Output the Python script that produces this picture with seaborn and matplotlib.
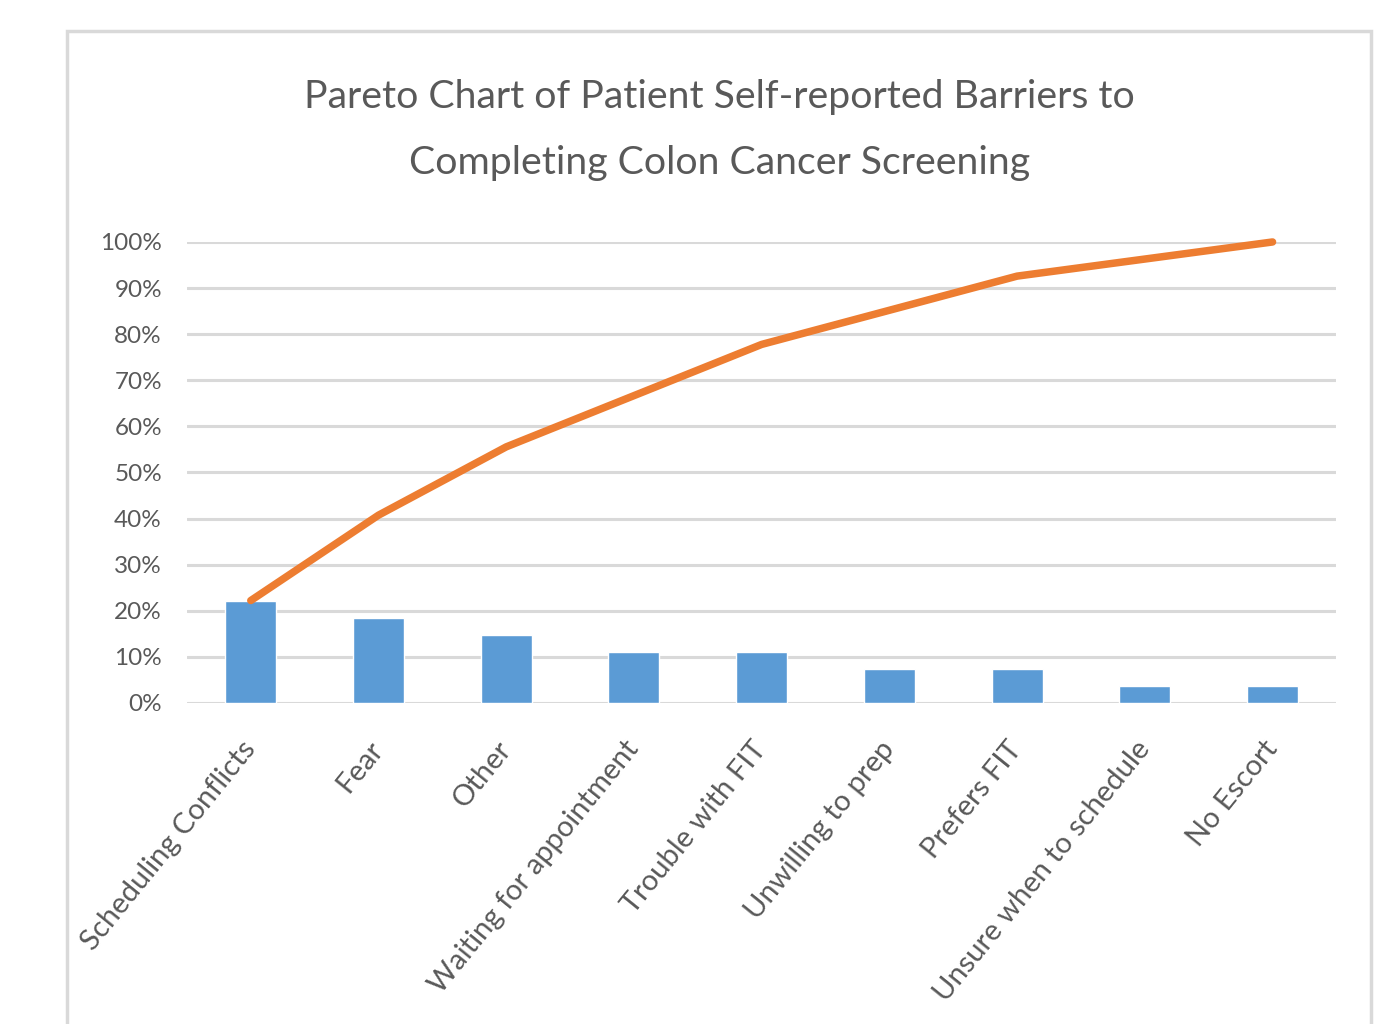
import numpy as np
import pandas as pd
import seaborn as sns
import matplotlib
matplotlib.use("Agg")
from matplotlib import pyplot as plt
from matplotlib.patches import Rectangle
from matplotlib.ticker import PercentFormatter

# data (27 responses)
barriers = ["Scheduling Conflicts", "Fear", "Other", "Waiting for appointment",
            "Trouble with FIT", "Unwilling to prep", "Prefers FIT",
            "Unsure when to schedule", "No Escort"]
counts = [6, 5, 4, 3, 3, 2, 2, 1, 1]
title_lines = ["Pareto Chart of Patient Self-reported Barriers to",
               "Completing Colon Cancer Screening"]

df = pd.DataFrame({"barrier": barriers, "count": counts})
df["share"] = df["count"] / df["count"].sum()
df["cum"] = df["share"].cumsum()
df["pos"] = np.arange(len(df))

sns.set_theme(style="white")
plt.rcParams["font.family"] = ["Lato", "DejaVu Sans"]

grey = "#595959"
fig = plt.figure(figsize=(13.95, 10.24), dpi=100)
ax = fig.add_axes([0.134, 0.3135, 0.824, 0.4502])

sns.barplot(data=df, x="barrier", y="share", color="#5B9BD5", width=0.4,
            saturation=1, ax=ax, zorder=2)
sns.lineplot(data=df, x="pos", y="cum", color="#ED7D31", linewidth=5.4,
             ax=ax, zorder=3, clip_on=False, solid_capstyle="round")

ax.set_xlim(-0.5, len(df) - 0.5)
ax.set_ylim(0, 1.0)
ax.set_yticks(np.arange(0, 1.01, 0.1))
ax.yaxis.set_major_formatter(PercentFormatter(1.0, decimals=0))
ax.grid(axis="y", color="#d9d9d9", linewidth=2.2, zorder=0)
ax.set_axisbelow(True)
for s in ax.spines.values():
    s.set_visible(False)
ax.set_xlabel("")
ax.set_ylabel("")
ax.tick_params(axis="y", length=0, pad=18, labelsize=17.5, labelcolor=grey)
ax.tick_params(axis="x", length=0, pad=30, labelsize=21, labelcolor=grey)
for lab in ax.get_xticklabels():
    lab.set_rotation(51)
    lab.set_ha("right")
    lab.set_va("center")
    lab.set_rotation_mode("anchor")

fig.text(0.516, 1 - 97 / 1024, title_lines[0], ha="center", va="center",
         fontsize=28.3, color=grey)
fig.text(0.516, 1 - 163 / 1024, title_lines[1], ha="center", va="center",
         fontsize=28.3, color=grey)

# chart frame
fig.patches.append(Rectangle((0.048, -0.05), 0.935, 1.02, transform=fig.transFigure,
                             fill=False, edgecolor="#d9d9d9", linewidth=2.5))

fig.savefig("out.png", dpi=100)
